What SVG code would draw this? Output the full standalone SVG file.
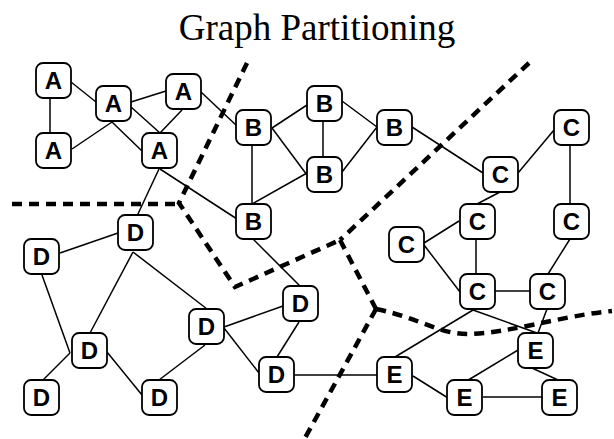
<svg xmlns="http://www.w3.org/2000/svg" width="614" height="439" viewBox="0 0 614 439">
<style>
.n rect{fill:#fff;stroke:#000;stroke-width:1.8}
.n text{font-family:"Liberation Sans",Arial,sans-serif;font-weight:bold;font-size:24px;text-anchor:middle;fill:#000}
#edges line{stroke:#000;stroke-width:1.5}
#cuts path{fill:none;stroke:#000;stroke-width:4.5;stroke-dasharray:10 7}
.title{font-family:"Liberation Serif","Times New Roman",serif;font-size:37px;text-anchor:middle;fill:#000}
</style>
<rect width="614" height="439" fill="#fff"/>
<text class="title" x="317" y="40">Graph Partitioning</text>
<g id="cuts">
<path d="M247,63 L179,203 L235,287 L340,240"/>
<path d="M12,204 L179,204"/>
<path d="M529,63 L340,240"/>
<path d="M340,240 L376,309"/>
<path d="M376,309 C420,318 440,335 470,334 C510,333 560,316 612,311"/>
<path d="M376,309 L305,438"/>
</g>
<g id="edges">
<line x1="50" y1="98" x2="50" y2="133"/>
<line x1="71" y1="82" x2="96" y2="102"/>
<line x1="131" y1="102" x2="166" y2="91"/>
<line x1="112" y1="122" x2="72" y2="149"/>
<line x1="131" y1="107" x2="160" y2="133"/>
<line x1="112" y1="122" x2="142" y2="151"/>
<line x1="182" y1="110" x2="160" y2="133"/>
<line x1="201" y1="92" x2="237" y2="126"/>
<line x1="160" y1="169" x2="237" y2="219"/>
<line x1="159" y1="169" x2="137" y2="216"/>
<line x1="272" y1="128" x2="307" y2="105"/>
<line x1="272" y1="128" x2="307" y2="175"/>
<line x1="252" y1="145" x2="252" y2="204"/>
<line x1="323" y1="122" x2="323" y2="157"/>
<line x1="342" y1="101" x2="377" y2="127"/>
<line x1="342" y1="172" x2="377" y2="127"/>
<line x1="307" y1="173" x2="252" y2="204"/>
<line x1="412" y1="127" x2="483" y2="173"/>
<line x1="518" y1="173" x2="554" y2="130"/>
<line x1="570" y1="145" x2="570" y2="204"/>
<line x1="500" y1="192" x2="477" y2="204"/>
<line x1="424" y1="243" x2="459" y2="221"/>
<line x1="476" y1="239" x2="476" y2="274"/>
<line x1="424" y1="245" x2="460" y2="292"/>
<line x1="495" y1="291" x2="530" y2="291"/>
<line x1="570" y1="239" x2="548" y2="274"/>
<line x1="473" y1="310" x2="395" y2="357"/>
<line x1="473" y1="310" x2="537" y2="333"/>
<line x1="547" y1="309" x2="538" y2="333"/>
<line x1="518" y1="350" x2="465" y2="382"/>
<line x1="532" y1="368" x2="558" y2="380"/>
<line x1="413" y1="376" x2="448" y2="398"/>
<line x1="483" y1="397" x2="542" y2="397"/>
<line x1="295" y1="375" x2="377" y2="375"/>
<line x1="118" y1="233" x2="60" y2="253"/>
<line x1="133" y1="252" x2="90" y2="333"/>
<line x1="133" y1="252" x2="207" y2="309"/>
<line x1="42" y1="275" x2="70" y2="353"/>
<line x1="70" y1="353" x2="43" y2="380"/>
<line x1="107" y1="352" x2="142" y2="395"/>
<line x1="159" y1="380" x2="205" y2="345"/>
<line x1="224" y1="327" x2="283" y2="306"/>
<line x1="224" y1="328" x2="259" y2="373"/>
<line x1="299" y1="322" x2="277" y2="357"/>
<line x1="253" y1="239" x2="300" y2="286"/>
</g>
<g id="A1" class="n"><rect x="36" y="63" width="35" height="35" rx="7"/><text x="53.5" y="89">A</text></g>
<g id="A2" class="n"><rect x="96" y="86" width="35" height="35" rx="7"/><text x="113.5" y="112">A</text></g>
<g id="A3" class="n"><rect x="166" y="74" width="35" height="35" rx="7"/><text x="183.5" y="100">A</text></g>
<g id="A4" class="n"><rect x="36" y="133" width="35" height="35" rx="7"/><text x="53.5" y="159">A</text></g>
<g id="A5" class="n"><rect x="142" y="133" width="35" height="35" rx="7"/><text x="159.5" y="159">A</text></g>
<g id="B1" class="n"><rect x="236" y="110" width="35" height="35" rx="7"/><text x="253.5" y="136">B</text></g>
<g id="B2" class="n"><rect x="307" y="86" width="35" height="35" rx="7"/><text x="324.5" y="112">B</text></g>
<g id="B3" class="n"><rect x="377" y="110" width="35" height="35" rx="7"/><text x="394.5" y="136">B</text></g>
<g id="B4" class="n"><rect x="307" y="157" width="35" height="35" rx="7"/><text x="324.5" y="183">B</text></g>
<g id="B5" class="n"><rect x="236" y="204" width="35" height="35" rx="7"/><text x="253.5" y="230">B</text></g>
<g id="C1" class="n"><rect x="554" y="110" width="35" height="35" rx="7"/><text x="571.5" y="136">C</text></g>
<g id="C2" class="n"><rect x="483" y="157" width="35" height="35" rx="7"/><text x="500.5" y="183">C</text></g>
<g id="C3" class="n"><rect x="460" y="204" width="35" height="35" rx="7"/><text x="477.5" y="230">C</text></g>
<g id="C4" class="n"><rect x="554" y="204" width="35" height="35" rx="7"/><text x="571.5" y="230">C</text></g>
<g id="C5" class="n"><rect x="389" y="227" width="35" height="35" rx="7"/><text x="406.5" y="253">C</text></g>
<g id="C6" class="n"><rect x="460" y="274" width="35" height="35" rx="7"/><text x="477.5" y="300">C</text></g>
<g id="C7" class="n"><rect x="530" y="274" width="35" height="35" rx="7"/><text x="547.5" y="300">C</text></g>
<g id="D1" class="n"><rect x="118" y="215" width="35" height="35" rx="7"/><text x="135.5" y="241">D</text></g>
<g id="D2" class="n"><rect x="24" y="239" width="35" height="35" rx="7"/><text x="41.5" y="265">D</text></g>
<g id="D3" class="n"><rect x="72" y="333" width="35" height="35" rx="7"/><text x="89.5" y="359">D</text></g>
<g id="D4" class="n"><rect x="24" y="380" width="35" height="35" rx="7"/><text x="41.5" y="406">D</text></g>
<g id="D5" class="n"><rect x="142" y="380" width="35" height="35" rx="7"/><text x="159.5" y="406">D</text></g>
<g id="D6" class="n"><rect x="189" y="309" width="35" height="35" rx="7"/><text x="206.5" y="335">D</text></g>
<g id="D7" class="n"><rect x="283" y="286" width="35" height="35" rx="7"/><text x="300.5" y="312">D</text></g>
<g id="D8" class="n"><rect x="259" y="357" width="35" height="35" rx="7"/><text x="276.5" y="383">D</text></g>
<g id="E1" class="n"><rect x="518" y="333" width="35" height="35" rx="7"/><text x="535.5" y="359">E</text></g>
<g id="E2" class="n"><rect x="377" y="357" width="35" height="35" rx="7"/><text x="394.5" y="383">E</text></g>
<g id="E3" class="n"><rect x="447" y="380" width="35" height="35" rx="7"/><text x="464.5" y="406">E</text></g>
<g id="E4" class="n"><rect x="542" y="380" width="35" height="35" rx="7"/><text x="559.5" y="406">E</text></g>
</svg>
